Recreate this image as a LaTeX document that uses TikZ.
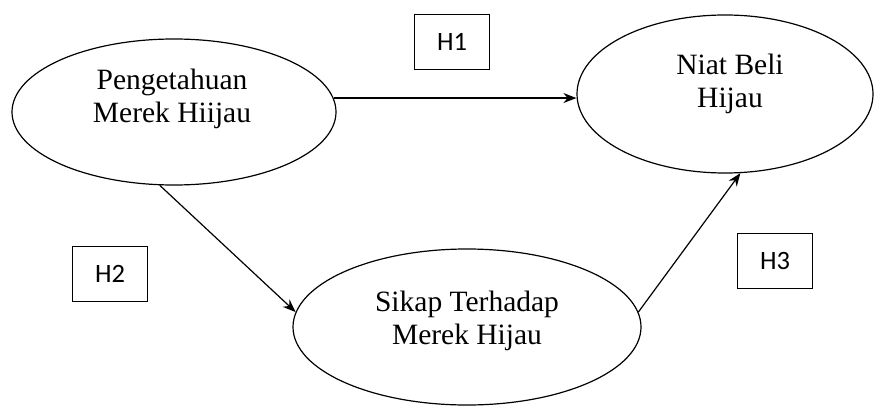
\documentclass[tikz,border=0pt]{standalone}
\usepackage{fontspec}
\setmainfont{Liberation Serif}
\newfontfamily\hfont{Carlito}
\usetikzlibrary{shapes.geometric,arrows.meta}
\begin{document}
\begin{tikzpicture}[x=1pt,y=-1pt,
  oval/.style={ellipse,draw,line width=1.2pt,inner sep=0pt},
  lbl/.style={align=center,font=\fontsize{29.5}{32.5}\selectfont},
  hbox/.style={draw,line width=1.3pt,minimum width=75pt,minimum height=55pt,inner sep=0pt,font=\hfont\fontsize{26.5}{30}\selectfont},
  conn/.style={line width=1.2pt,-{Stealth[length=13pt,width=10pt]}}]
\useasboundingbox (0,0) rectangle (874,406);
\node[oval,minimum width=324pt,minimum height=146pt] (e1) at (174,112) {};
\node[oval,minimum width=296pt,minimum height=158pt] (e2) at (725,94) {};
\node[oval,minimum width=348pt,minimum height=156pt] (e3) at (467,327) {};
\node[lbl] (t1) at (172,99) {Pengetahuan\\Merek Hiijau};
\node[lbl] (t2) at (730,84) {Niat Beli\\Hijau};
\node[lbl] (t3) at (467,321) {Sikap Terhadap\\Merek Hijau};
\node[hbox] (h1) at (452,42) {H1};
\node[hbox] (h2) at (110,274) {H2};
\node[hbox] (h3) at (775,261) {H3};
\draw[conn] (e1.5) -- (e1.5 -| e2.west);
\draw[conn] (e1.259) -- (e3.175);
\draw[conn] (e3.5) -- (e2.281);
\end{tikzpicture}
\end{document}
